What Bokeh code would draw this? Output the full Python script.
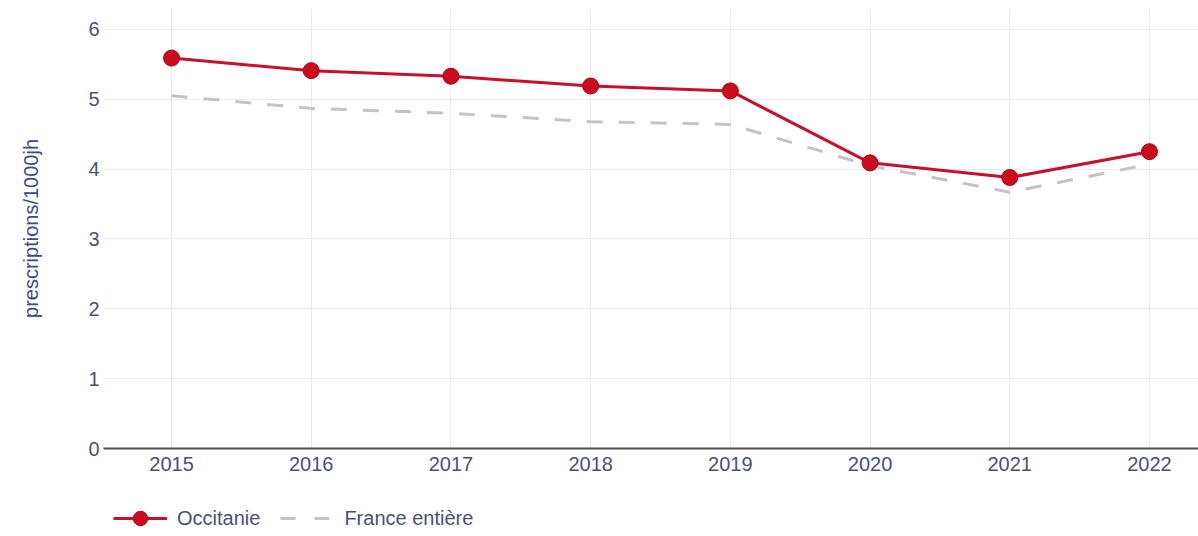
from bokeh.plotting import figure
from bokeh.layouts import column
from bokeh.models import Range1d, Legend, LegendItem, FixedTicker
from bokeh.embed import file_html
from bokeh.resources import INLINE

years = [2015, 2016, 2017, 2018, 2019, 2020, 2021, 2022]
occitanie = [5.59, 5.41, 5.33, 5.19, 5.12, 4.09, 3.88, 4.25]
france = [5.05, 4.87, 4.80, 4.68, 4.64, 4.05, 3.67, 4.07]
y_ticks = [0, 1, 2, 3, 4, 5, 6]
series_names = ["Occitanie", "France entière"]

FONT = "Liberation Sans"
TICK_COLOR = "#4a5272"
TITLE_COLOR = "#3a4a8c"
RED = "#c8102e"
GRAY = "#c4c4c4"

p = figure(width=1198, height=496, output_backend="svg", toolbar_location=None,
           x_range=Range1d(2014.513, 2022.351), y_range=Range1d(0, 6.3),
           min_border_left=103, min_border_right=0, min_border_top=8, min_border_bottom=48)
p.outline_line_color = None
p.background_fill_color = "white"

p.xgrid.grid_line_color = "#ebebeb"
p.ygrid.grid_line_color = "#ebebeb"
p.xaxis.ticker = FixedTicker(ticks=years)
p.yaxis.ticker = FixedTicker(ticks=y_ticks)

p.xaxis.axis_line_color = "#4d4d4d"
p.xaxis.axis_line_width = 2
p.xaxis.major_tick_line_color = None
p.xaxis.minor_tick_line_color = None
p.xaxis.major_label_text_font = FONT
p.xaxis.major_label_text_font_size = "20px"
p.xaxis.major_label_text_color = TICK_COLOR
p.xaxis.major_label_standoff = 2

p.yaxis.axis_line_color = None
p.yaxis.major_tick_line_color = None
p.yaxis.minor_tick_line_color = None
p.yaxis.major_label_text_font = FONT
p.yaxis.major_label_text_font_size = "20px"
p.yaxis.major_label_text_color = TICK_COLOR
p.yaxis.major_label_standoff = -2
p.yaxis.axis_label = "prescriptions/1000jh"
p.yaxis.axis_label_text_font = FONT
p.yaxis.axis_label_text_font_style = "normal"
p.yaxis.axis_label_text_font_size = "20px"
p.yaxis.axis_label_text_color = TITLE_COLOR
p.yaxis.axis_label_standoff = 43

p.line(years, france, line_color=GRAY, line_width=3, line_dash="16 16")
p.line(years, occitanie, line_color=RED, line_width=3)
p.scatter(years, occitanie, size=16, fill_color="#cc0a1e", line_color="#a00818", line_width=1)

# legend strip below the chart (series drawn off-view, only their legend glyphs show)
lg = figure(width=1198, height=40, output_backend="svg", toolbar_location=None,
            x_axis_type=None, y_axis_type=None,
            x_range=Range1d(0, 1), y_range=Range1d(0, 1),
            min_border_left=103, min_border_right=0, min_border_top=0, min_border_bottom=0)
lg.outline_line_color = None
lg.xgrid.visible = False
lg.ygrid.visible = False
l1 = lg.line(years, occitanie, line_color=RED, line_width=3)
m1 = lg.scatter(years, occitanie, size=16, fill_color="#cc0a1e", line_color="#a00818", line_width=1)
l2 = lg.line(years, france, line_color=GRAY, line_width=3, line_dash="15 19")
legend = Legend(items=[LegendItem(label=series_names[0], renderers=[l1, m1]),
                       LegendItem(label=series_names[1], renderers=[l2])],
                orientation="horizontal", location=(10, 0),
                border_line_color=None, background_fill_alpha=0,
                label_text_font=FONT, label_text_font_size="20px", label_text_color=TICK_COLOR,
                glyph_width=54, glyph_height=36, label_standoff=10, spacing=20,
                padding=0, margin=0)
lg.add_layout(legend, "center")

layout = column(p, lg, spacing=0)
open("out.html", "w").write(file_html(layout, INLINE))
